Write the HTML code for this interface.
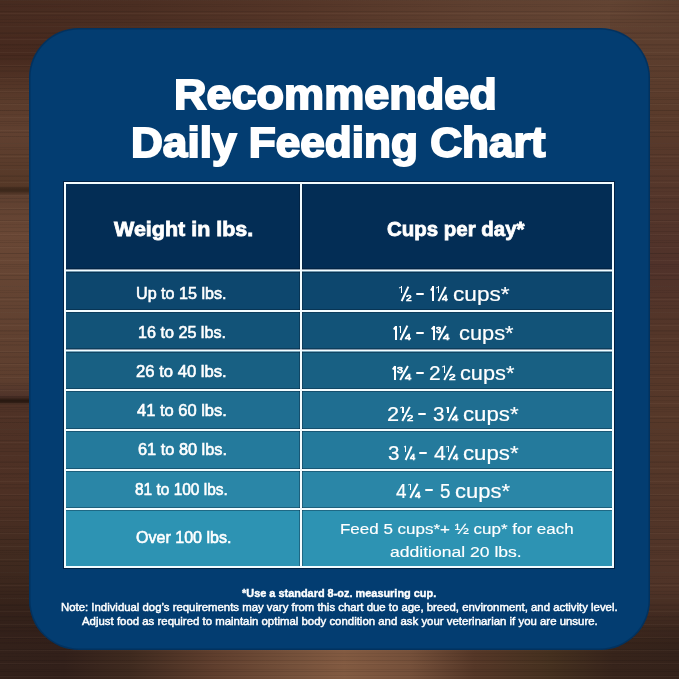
<!DOCTYPE html><html><head><meta charset="utf-8"><title>Recommended Daily Feeding Chart</title><style>html,body{margin:0;padding:0}
body{width:679px;height:679px;overflow:hidden;position:relative;background:#4f3426;font-family:"Liberation Sans",sans-serif}
.a{position:absolute}
.t{position:absolute;white-space:pre;color:#fff;line-height:1;transform-origin:0 0;-webkit-text-stroke-color:#fff}
</style></head><body>
<div class="a" style="left:0;top:0;width:679px;height:679px;background:#4e3226"></div>
<div class="a" style="left:0;top:0;width:679px;height:110px;background:linear-gradient(90deg,#472b20 0%,#4b2e22 20%,#553628 45%,#5f4030 70%,#634433 90%,#5c3e2e 100%);-webkit-mask-image:linear-gradient(180deg,#000 60px,transparent 110px)"></div>
<div class="a" style="left:0;top:0;width:70px;height:679px;background:linear-gradient(180deg,#4a2e22 0,#46291e 55px,#5a3b2b 100px,#604030 135px,#553827 186px,#3a2619 190px,#5f4030 196px,#694735 235px,#634332 300px,#5d3e2e 380px,#50342a 396px,#2a1a12 400px,#2a1a12 402px,#4f3226 405px,#4d3024 494px,#402a1f 560px,#35221a 614px,#33211a 679px);-webkit-mask-image:linear-gradient(180deg,transparent 0,#000 40px)"></div>
<div class="a" style="left:610px;top:0;width:69px;height:679px;background:linear-gradient(180deg,#5e4030 0,#5a3b2b 110px,#50322a 264px,#543629 330px,#563829 420px,#503428 574px,#4a3024 679px);-webkit-mask-image:linear-gradient(180deg,transparent 0,#000 40px)"></div>
<div class="a" style="left:0;top:590px;width:679px;height:89px;background:linear-gradient(90deg,#33211a 0,#32201a 64px,#3f2a1f 130px,#5f3e2d 214px,#74503a 290px,#825a41 344px,#75503a 410px,#553727 474px,#45301f 550px,#37241b 614px,#34221a 679px);-webkit-mask-image:linear-gradient(180deg,transparent 0,#000 55px)"></div>
<div class="a" style="left:0;top:0;width:679px;height:679px;background:repeating-linear-gradient(180deg,rgba(0,0,0,.09) 0 1px,rgba(0,0,0,0) 1px 4px,rgba(0,0,0,.05) 4px 5px,rgba(0,0,0,0) 5px 11px),repeating-linear-gradient(180deg,rgba(255,220,190,.04) 0 1px,rgba(0,0,0,0) 1px 6px,rgba(0,0,0,.06) 6px 7px,rgba(0,0,0,0) 7px 13px)"></div>

<div class="a" style="left:29px;top:28px;width:621px;height:622px;border-radius:50px;background:#033d71;box-shadow:inset 0 0 0 1.5px rgba(0,18,45,0.25)"></div>
<div class="a" style="left:63px;top:181px;width:552px;height:388px;background:rgba(0,10,30,0.55)"></div>
<div class="a" style="left:66px;top:184px;width:546px;height:85px;background:#032d55"></div>
<div class="a" style="left:66px;top:271px;width:546px;height:39px;background:#0d476e"></div>
<div class="a" style="left:66px;top:312px;width:546px;height:37px;background:#125378"></div>
<div class="a" style="left:66px;top:351px;width:546px;height:38px;background:#186083"></div>
<div class="a" style="left:66px;top:391px;width:546px;height:38px;background:#1f6e91"></div>
<div class="a" style="left:66px;top:431px;width:546px;height:38px;background:#247a9c"></div>
<div class="a" style="left:66px;top:471px;width:546px;height:37px;background:#2a86a7"></div>
<div class="a" style="left:66px;top:510px;width:546px;height:56px;background:#2d93b3"></div>
<div class="a" style="left:299px;top:182px;width:1px;height:386px;background:rgba(0,15,35,0.32)"></div><div class="a" style="left:302px;top:182px;width:1px;height:386px;background:rgba(0,15,35,0.32)"></div>
<div class="a" style="left:64px;top:268px;width:550px;height:1px;background:rgba(0,15,35,0.32)"></div><div class="a" style="left:64px;top:272px;width:550px;height:1px;background:rgba(0,15,35,0.32)"></div><div class="a" style="left:64px;top:269px;width:550px;height:1px;background:rgba(242,252,255,0.55)"></div><div class="a" style="left:64px;top:270px;width:550px;height:1px;background:#f2fcff"></div><div class="a" style="left:64px;top:271px;width:550px;height:1px;background:rgba(242,252,255,0.45)"></div>
<div class="a" style="left:64px;top:309px;width:550px;height:1px;background:rgba(0,15,35,0.32)"></div><div class="a" style="left:64px;top:312px;width:550px;height:1px;background:rgba(0,15,35,0.32)"></div><div class="a" style="left:64px;top:310px;width:550px;height:2px;background:#f2fcff"></div>
<div class="a" style="left:64px;top:348px;width:550px;height:1px;background:rgba(0,15,35,0.32)"></div><div class="a" style="left:64px;top:352px;width:550px;height:1px;background:rgba(0,15,35,0.32)"></div><div class="a" style="left:64px;top:349px;width:550px;height:1px;background:rgba(242,252,255,0.55)"></div><div class="a" style="left:64px;top:350px;width:550px;height:1px;background:#f2fcff"></div><div class="a" style="left:64px;top:351px;width:550px;height:1px;background:rgba(242,252,255,0.45)"></div>
<div class="a" style="left:64px;top:388px;width:550px;height:1px;background:rgba(0,15,35,0.32)"></div><div class="a" style="left:64px;top:391px;width:550px;height:1px;background:rgba(0,15,35,0.32)"></div><div class="a" style="left:64px;top:389px;width:550px;height:2px;background:#f2fcff"></div>
<div class="a" style="left:64px;top:428px;width:550px;height:1px;background:rgba(0,15,35,0.32)"></div><div class="a" style="left:64px;top:431px;width:550px;height:1px;background:rgba(0,15,35,0.32)"></div><div class="a" style="left:64px;top:429px;width:550px;height:2px;background:#f2fcff"></div>
<div class="a" style="left:64px;top:468px;width:550px;height:1px;background:rgba(0,15,35,0.32)"></div><div class="a" style="left:64px;top:471px;width:550px;height:1px;background:rgba(0,15,35,0.32)"></div><div class="a" style="left:64px;top:469px;width:550px;height:2px;background:#f2fcff"></div>
<div class="a" style="left:64px;top:507px;width:550px;height:1px;background:rgba(0,15,35,0.32)"></div><div class="a" style="left:64px;top:510px;width:550px;height:1px;background:rgba(0,15,35,0.32)"></div><div class="a" style="left:64px;top:508px;width:550px;height:2px;background:#f2fcff"></div>
<div class="a" style="left:64px;top:182px;width:550px;height:2px;background:#f2fcff"></div><div class="a" style="left:64px;top:566px;width:550px;height:2px;background:#f2fcff"></div><div class="a" style="left:64px;top:182px;width:2px;height:386px;background:#f2fcff"></div><div class="a" style="left:612px;top:182px;width:2px;height:386px;background:#f2fcff"></div><div class="a" style="left:300px;top:182px;width:2px;height:386px;background:#f2fcff"></div>
<div class="t" style="left:173.92px;top:72.80px;font-size:42.59px;font-weight:bold;-webkit-text-stroke-width:1.90px;transform:scale(1.0576,1.0000)">Recommended</div>
<div class="t" style="left:130.90px;top:122.01px;font-size:42.01px;font-weight:bold;-webkit-text-stroke-width:1.90px;transform:scale(1.0509,1.0000)">Daily Feeding Chart</div>
<div class="t" style="left:113.50px;top:219.12px;font-size:20.93px;font-weight:bold;-webkit-text-stroke-width:0.80px;transform:scale(1.0267,1.0000)">Weight in lbs.</div>
<div class="t" style="left:387.01px;top:219.12px;font-size:20.93px;font-weight:bold;-webkit-text-stroke-width:0.80px;transform:scale(0.9773,1.0000)">Cups per day*</div>
<div class="t" style="left:135.55px;top:285.61px;font-size:16.86px;font-weight:normal;-webkit-text-stroke-width:0.60px;transform:scale(0.9571,1.0000)">Up to 15 lbs.</div>
<div class="t" style="left:137.54px;top:324.51px;font-size:16.86px;font-weight:normal;-webkit-text-stroke-width:0.60px;transform:scale(0.9578,1.0000)">16 to 25 lbs.</div>
<div class="t" style="left:135.51px;top:363.61px;font-size:16.86px;font-weight:normal;-webkit-text-stroke-width:0.60px;transform:scale(0.9869,1.0000)">26 to 40 lbs.</div>
<div class="t" style="left:136.50px;top:402.72px;font-size:16.86px;font-weight:normal;-webkit-text-stroke-width:0.60px;transform:scale(0.9781,1.0000)">41 to 60 lbs.</div>
<div class="t" style="left:138.02px;top:442.11px;font-size:16.86px;font-weight:normal;-webkit-text-stroke-width:0.60px;transform:scale(0.9693,1.0000)">61 to 80 lbs.</div>
<div class="t" style="left:134.51px;top:481.72px;font-size:16.86px;font-weight:normal;-webkit-text-stroke-width:0.60px;transform:scale(0.9160,1.0000)">81 to 100 lbs.</div>
<div class="t" style="left:135.51px;top:530.40px;font-size:16.86px;font-weight:normal;-webkit-text-stroke-width:0.60px;transform:scale(0.9515,1.0000)">Over 100 lbs.</div>
<div class="t" style="left:339.88px;top:521.40px;font-size:15.19px;font-weight:normal;-webkit-text-stroke-width:0.15px;transform:scale(1.1179,1.0000)">Feed 5 cups*+ ½ cup* for each</div>
<div class="t" style="left:390.39px;top:544.21px;font-size:15.19px;font-weight:normal;-webkit-text-stroke-width:0.15px;transform:scale(1.1554,1.0000)">additional 20 lbs.</div>
<div class="t" style="left:242.00px;top:587.81px;font-size:11.05px;font-weight:bold;-webkit-text-stroke-width:0.40px;transform:scale(0.9888,1.0000)">*Use a standard 8-oz. measuring cup.</div>
<div class="t" style="left:61.00px;top:601.61px;font-size:10.68px;font-weight:normal;-webkit-text-stroke-width:0.45px;transform:scale(1.0655,1.0000)">Note: Individual dog’s requirements may vary from this chart due to age, breed, environment, and activity level.</div>
<div class="t" style="left:81.51px;top:615.70px;font-size:10.68px;font-weight:normal;-webkit-text-stroke-width:0.45px;transform:scale(1.0693,1.0000)">Adjust food as required to maintain optimal body condition and ask your veterinarian if you are unsure.</div>
<div class="t" style="left:405.59px;top:292.72px;font-size:9.87px;font-weight:normal;-webkit-text-stroke-width:0.70px;transform:scale(1.0342,1.0000)">2</div>
<div class="t" style="left:442.27px;top:292.72px;font-size:9.87px;font-weight:normal;-webkit-text-stroke-width:0.70px;transform:scale(1.0387,1.0000)">4</div>
<div class="t" style="left:452.90px;top:283.70px;font-size:20.35px;font-weight:normal;-webkit-text-stroke-width:0.20px;transform:scale(1.1122,1.0000)">cups*</div>
<div class="t" style="left:404.58px;top:332.11px;font-size:9.64px;font-weight:normal;-webkit-text-stroke-width:0.70px;transform:scale(1.1031,1.0000)">4</div>
<div class="t" style="left:435.51px;top:325.63px;font-size:8.61px;font-weight:normal;-webkit-text-stroke-width:0.70px;transform:scale(1.0756,1.0000)">3</div>
<div class="t" style="left:443.34px;top:332.11px;font-size:9.64px;font-weight:normal;-webkit-text-stroke-width:0.70px;transform:scale(1.2048,1.0000)">4</div>
<div class="t" style="left:458.95px;top:323.11px;font-size:20.35px;font-weight:normal;-webkit-text-stroke-width:0.20px;transform:scale(1.0721,1.0000)">cups*</div>
<div class="t" style="left:397.04px;top:365.59px;font-size:8.55px;font-weight:normal;-webkit-text-stroke-width:0.70px;transform:scale(1.2389,1.0000)">3</div>
<div class="t" style="left:405.24px;top:372.00px;font-size:9.56px;font-weight:normal;-webkit-text-stroke-width:0.70px;transform:scale(1.1894,1.0000)">4</div>
<div class="t" style="left:429.46px;top:363.00px;font-size:20.35px;font-weight:normal;-webkit-text-stroke-width:0.20px;transform:scale(1.0249,1.0000)">2</div>
<div class="t" style="left:448.56px;top:372.00px;font-size:9.56px;font-weight:normal;-webkit-text-stroke-width:0.70px;transform:scale(1.2398,1.0000)">2</div>
<div class="t" style="left:460.44px;top:363.00px;font-size:20.35px;font-weight:normal;-webkit-text-stroke-width:0.20px;transform:scale(1.0681,1.0000)">cups*</div>
<div class="t" style="left:387.40px;top:403.61px;font-size:20.35px;font-weight:normal;-webkit-text-stroke-width:0.20px;transform:scale(1.0673,1.0000)">2</div>
<div class="t" style="left:407.11px;top:412.61px;font-size:9.64px;font-weight:normal;-webkit-text-stroke-width:0.70px;transform:scale(1.1705,1.0000)">2</div>
<div class="t" style="left:432.95px;top:403.61px;font-size:20.35px;font-weight:normal;-webkit-text-stroke-width:0.20px;transform:scale(1.0101,1.0000)">3</div>
<div class="t" style="left:452.22px;top:412.61px;font-size:9.64px;font-weight:normal;-webkit-text-stroke-width:0.70px;transform:scale(1.1781,1.0000)">4</div>
<div class="t" style="left:463.42px;top:403.61px;font-size:20.35px;font-weight:normal;-webkit-text-stroke-width:0.20px;transform:scale(1.0922,1.0000)">cups*</div>
<div class="t" style="left:387.93px;top:442.91px;font-size:20.35px;font-weight:normal;-webkit-text-stroke-width:0.20px;transform:scale(1.0101,1.0000)">3</div>
<div class="t" style="left:409.71px;top:451.90px;font-size:9.64px;font-weight:normal;-webkit-text-stroke-width:0.70px;transform:scale(0.9817,1.0000)">4</div>
<div class="t" style="left:434.00px;top:442.91px;font-size:20.35px;font-weight:normal;-webkit-text-stroke-width:0.20px;transform:scale(1.0369,1.0000)">4</div>
<div class="t" style="left:452.65px;top:451.90px;font-size:9.64px;font-weight:normal;-webkit-text-stroke-width:0.70px;transform:scale(0.9795,1.0000)">4</div>
<div class="t" style="left:463.42px;top:442.91px;font-size:20.35px;font-weight:normal;-webkit-text-stroke-width:0.20px;transform:scale(1.0922,1.0000)">cups*</div>
<div class="t" style="left:396.00px;top:480.50px;font-size:20.35px;font-weight:normal;-webkit-text-stroke-width:0.20px;transform:scale(0.9292,1.0000)">4</div>
<div class="t" style="left:415.00px;top:489.50px;font-size:9.56px;font-weight:normal;-webkit-text-stroke-width:0.70px;transform:scale(1.0405,1.0000)">4</div>
<div class="t" style="left:439.53px;top:480.50px;font-size:20.35px;font-weight:normal;-webkit-text-stroke-width:0.20px;transform:scale(0.9235,1.0000)">5</div>
<div class="t" style="left:455.46px;top:480.50px;font-size:20.35px;font-weight:normal;-webkit-text-stroke-width:0.20px;transform:scale(1.0794,1.0000)">cups*</div>
<div class="a" style="left:415.80px;top:292.60px;width:7.90px;height:2.00px;background:#fff;border-radius:1px"></div>
<div class="a" style="left:415.80px;top:332.00px;width:8.20px;height:2.00px;background:#fff;border-radius:1px"></div>
<div class="a" style="left:415.80px;top:371.90px;width:8.20px;height:2.00px;background:#fff;border-radius:1px"></div>
<div class="a" style="left:418.10px;top:412.50px;width:8.30px;height:2.00px;background:#fff;border-radius:1px"></div>
<div class="a" style="left:418.70px;top:451.80px;width:8.30px;height:2.00px;background:#fff;border-radius:1px"></div>
<div class="a" style="left:425.10px;top:489.40px;width:7.70px;height:2.00px;background:#fff;border-radius:1px"></div>
<div class="a" style="left:400.82px;top:286.30px;width:1.50px;height:6.77px;background:#fff"></div>
<div class="a" style="left:432.20px;top:286.30px;width:2.10px;height:14.40px;background:#fff"></div>
<div class="a" style="left:437.69px;top:286.30px;width:1.50px;height:6.77px;background:#fff"></div>
<div class="a" style="left:394.60px;top:326.00px;width:2.10px;height:14.10px;background:#fff"></div>
<div class="a" style="left:399.98px;top:326.00px;width:1.50px;height:6.63px;background:#fff"></div>
<div class="a" style="left:432.90px;top:326.00px;width:2.10px;height:14.10px;background:#fff"></div>
<div class="a" style="left:394.10px;top:366.00px;width:2.10px;height:14.00px;background:#fff"></div>
<div class="a" style="left:443.78px;top:366.00px;width:1.50px;height:6.58px;background:#fff"></div>
<div class="a" style="left:402.13px;top:406.50px;width:1.50px;height:6.63px;background:#fff"></div>
<div class="a" style="left:447.29px;top:406.50px;width:1.50px;height:6.63px;background:#fff"></div>
<div class="a" style="left:404.83px;top:445.80px;width:1.50px;height:6.63px;background:#fff"></div>
<div class="a" style="left:447.73px;top:445.80px;width:1.50px;height:6.63px;background:#fff"></div>
<div class="a" style="left:409.62px;top:483.50px;width:1.50px;height:6.58px;background:#fff"></div>
<div class="a" style="left:396.85px;top:292.55px;width:15.86px;height:1.90px;background:#fff;transform:rotate(-65.24deg)"></div>
<div class="a" style="left:433.81px;top:292.55px;width:16.09px;height:1.90px;background:#fff;transform:rotate(-63.49deg)"></div>
<div class="a" style="left:396.16px;top:332.10px;width:15.63px;height:1.90px;background:#fff;transform:rotate(-64.42deg)"></div>
<div class="a" style="left:434.45px;top:332.10px;width:15.97px;height:1.90px;background:#fff;transform:rotate(-61.97deg)"></div>
<div class="a" style="left:395.96px;top:372.05px;width:16.01px;height:1.90px;background:#fff;transform:rotate(-60.95deg)"></div>
<div class="a" style="left:440.12px;top:372.05px;width:15.91px;height:1.90px;background:#fff;transform:rotate(-61.63deg)"></div>
<div class="a" style="left:398.41px;top:412.60px;width:15.95px;height:1.90px;background:#fff;transform:rotate(-62.14deg)"></div>
<div class="a" style="left:443.54px;top:412.60px;width:15.82px;height:1.90px;background:#fff;transform:rotate(-63.01deg)"></div>
<div class="a" style="left:400.94px;top:451.90px;width:15.43px;height:1.90px;background:#fff;transform:rotate(-66.05deg)"></div>
<div class="a" style="left:443.93px;top:451.90px;width:15.68px;height:1.90px;background:#fff;transform:rotate(-64.06deg)"></div>
<div class="a" style="left:405.92px;top:489.55px;width:15.76px;height:1.90px;background:#fff;transform:rotate(-62.67deg)"></div>
<div class="a" style="left:399.49px;top:286.80px;width:2.26px;height:1.42px;background:#fff;transform:rotate(-32.92deg)"></div>
<div class="a" style="left:430.42px;top:287.67px;width:3.65px;height:1.99px;background:#fff;transform:rotate(-56.66deg)"></div>
<div class="a" style="left:436.11px;top:286.80px;width:2.49px;height:1.42px;background:#fff;transform:rotate(-29.54deg)"></div>
<div class="a" style="left:393.01px;top:327.33px;width:3.47px;height:1.99px;background:#fff;transform:rotate(-58.69deg)"></div>
<div class="a" style="left:398.61px;top:326.48px;width:2.28px;height:1.42px;background:#fff;transform:rotate(-31.38deg)"></div>
<div class="a" style="left:430.92px;top:327.33px;width:3.76px;height:1.99px;background:#fff;transform:rotate(-52.16deg)"></div>
<div class="a" style="left:392.29px;top:367.31px;width:3.62px;height:1.99px;background:#fff;transform:rotate(-54.40deg)"></div>
<div class="a" style="left:442.04px;top:366.48px;width:2.63px;height:1.42px;background:#fff;transform:rotate(-26.55deg)"></div>
<div class="a" style="left:400.43px;top:406.98px;width:2.59px;height:1.42px;background:#fff;transform:rotate(-27.33deg)"></div>
<div class="a" style="left:445.72px;top:406.98px;width:2.47px;height:1.42px;background:#fff;transform:rotate(-28.77deg)"></div>
<div class="a" style="left:403.69px;top:446.28px;width:2.08px;height:1.42px;background:#fff;transform:rotate(-34.87deg)"></div>
<div class="a" style="left:446.31px;top:446.28px;width:2.33px;height:1.42px;background:#fff;transform:rotate(-30.69deg)"></div>
<div class="a" style="left:408.03px;top:483.98px;width:2.49px;height:1.42px;background:#fff;transform:rotate(-28.21deg)"></div>
</body></html>
